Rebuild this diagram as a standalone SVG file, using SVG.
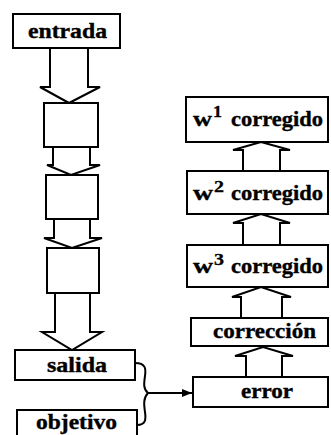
<svg xmlns="http://www.w3.org/2000/svg" width="331" height="435" viewBox="0 0 331 435">
  <defs>
    <style>
      .box { fill: #fff; stroke: #000; stroke-width: 2; }
      .blk { fill: #fff; stroke: #000; stroke-width: 2; stroke-linejoin: miter; }
      .lbl { font-family: "Liberation Serif", "Times New Roman", serif; font-weight: bold; font-size: 20px; fill: #000; stroke: #000; stroke-width: 0.35; }
      .sup { font-family: "Liberation Serif", "Times New Roman", serif; font-weight: bold; font-size: 16px; fill: #000; stroke: #000; stroke-width: 0.3; }
      .wire { fill: none; stroke: #000; stroke-width: 2; }
    </style>
    <marker id="tip" viewBox="0 0 10 10" refX="10" refY="5" markerWidth="5" markerHeight="5" orient="auto" markerUnits="strokeWidth">
      <path d="M0,1 L10,5 L0,9 z" fill="#000"/>
    </marker>
  </defs>
  <rect width="331" height="435" fill="#fff"/>

  <!-- forward pass: block arrows -->
  <g id="connectors">
    <polygon class="blk" points="50,48 50,87 40,87 69,103 100,87 88,87 88,48"/>
    <polygon class="blk" points="53,147 53,165 47,165 71,175 100,165 90,165 90,147"/>
    <polygon class="blk" points="54,219 54,238 44,238 72,248 102,238 90,238 90,219"/>
    <polygon class="blk" points="55,293 55,332 42,332 72,350 102,332 90,332 90,293"/>

    <!-- backward pass: block arrows pointing up -->
    <polygon class="blk" points="243,171 243,150 233,150 261,142 290,150 280,150 280,171"/>
    <polygon class="blk" points="243,245 243,223 233,223 261,214 290,223 280,223 280,245"/>
    <polygon class="blk" points="241,318 241,297 232,297 261,287 291,297 282,297 282,318"/>
    <polygon class="blk" points="246,377 246,356 235,356 263,347 293,356 282,356 282,377"/>

    <!-- brace joining salida and objetivo into error -->
    <path class="wire" d="M135,363 C146,363 146,369 145,376 C144,383 143,389 148,393 C143,398 144,405 145,412 C146,419 146,425 137,425"/>
    <line class="wire" x1="148" y1="393" x2="192" y2="393" stroke-width="1.5" marker-end="url(#tip)"/>
  </g>

  <g id="entrada">
    <rect class="box" x="13" y="14" width="107" height="34"/>
    <text class="lbl" x="28" y="38" textLength="79" lengthAdjust="spacingAndGlyphs">entrada</text>
  </g>
  <g id="capa1">
    <rect class="box" x="44" y="103" width="54" height="44"/>
  </g>
  <g id="capa2">
    <rect class="box" x="46" y="175" width="52" height="44"/>
  </g>
  <g id="capa3">
    <rect class="box" x="47" y="248" width="52" height="45"/>
  </g>
  <g id="salida">
    <rect class="box" x="15" y="350" width="120" height="30"/>
    <text class="lbl" x="47" y="372" textLength="60" lengthAdjust="spacingAndGlyphs">salida</text>
  </g>
  <g id="objetivo">
    <rect class="box" x="17" y="410" width="120" height="32"/>
    <text class="lbl" x="36" y="429" textLength="81" lengthAdjust="spacingAndGlyphs">objetivo</text>
  </g>

  <g id="w1">
    <rect class="box" x="186" y="97" width="142" height="45"/>
    <text class="lbl" x="193" y="126" textLength="19" lengthAdjust="spacingAndGlyphs">w</text>
    <text class="sup" x="213" y="117" textLength="9" lengthAdjust="spacingAndGlyphs">1</text>
    <text class="lbl" x="231" y="126" textLength="92" lengthAdjust="spacingAndGlyphs">corregido</text>
  </g>
  <g id="w2">
    <rect class="box" x="187" y="171" width="141" height="43"/>
    <text class="lbl" x="193" y="200" textLength="20" lengthAdjust="spacingAndGlyphs">w</text>
    <text class="sup" x="214" y="192" textLength="10" lengthAdjust="spacingAndGlyphs">2</text>
    <text class="lbl" x="231" y="200" textLength="92" lengthAdjust="spacingAndGlyphs">corregido</text>
  </g>
  <g id="w3">
    <rect class="box" x="187" y="245" width="141" height="42"/>
    <text class="lbl" x="193" y="273" textLength="20" lengthAdjust="spacingAndGlyphs">w</text>
    <text class="sup" x="214" y="265" textLength="10" lengthAdjust="spacingAndGlyphs">3</text>
    <text class="lbl" x="231" y="273" textLength="92" lengthAdjust="spacingAndGlyphs">corregido</text>
  </g>
  <g id="correccion">
    <rect class="box" x="191" y="318" width="137" height="28"/>
    <text class="lbl" x="213" y="338" textLength="103" lengthAdjust="spacingAndGlyphs">corrección</text>
  </g>
  <g id="error">
    <rect class="box" x="193" y="377" width="135" height="30"/>
    <text class="lbl" x="241" y="398" textLength="52" lengthAdjust="spacingAndGlyphs">error</text>
  </g>
</svg>
